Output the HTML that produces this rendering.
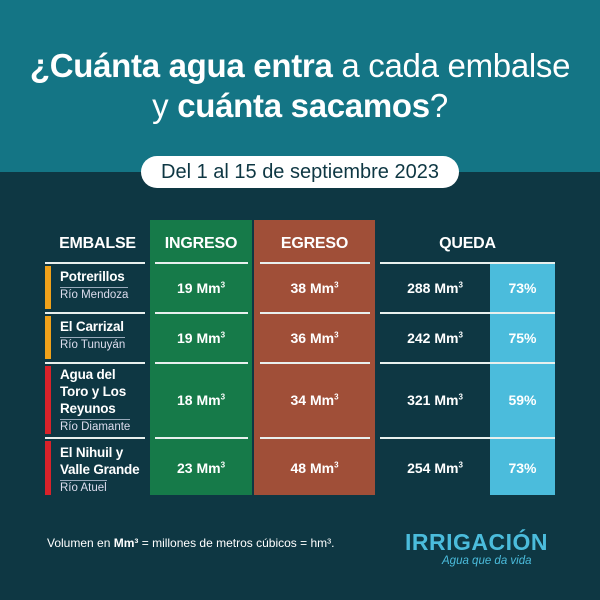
<!DOCTYPE html><html><head><style>
body{margin:0;width:600px;height:600px;overflow:hidden;background:#0e3743;font-family:"Liberation Sans",sans-serif;color:#fff;position:relative}
.a{position:absolute}
.top{left:0;top:0;width:600px;height:172px;background:#147585}
h1{position:absolute;margin:0;left:0;width:600px;top:46px;text-align:center;font-size:33px;font-weight:normal;line-height:40px;letter-spacing:-0.3px}
.pill{left:141px;top:156px;width:318px;height:32px;background:#fff;border-radius:16px;color:#0e3743;font-size:20px;text-align:center;line-height:32px}
.col{top:220px;height:275px}
.hd{font-size:16px;text-align:center;top:235px;font-weight:bold;letter-spacing:-0.2px}
.ln{height:2px;background:#e8f0ee}
.v{font-size:14px;font-weight:bold;text-align:center}
.name{font-size:13.5px;font-weight:bold;line-height:17px;letter-spacing:-0.2px}
.riv{font-size:11.5px;color:#dde;border-top:1px solid #9ab;padding-top:1px;display:inline-block}
.bar{width:6px;left:45px}
sup{font-size:8px}
</style></head><body>
<div class="a top"></div>
<h1><b>¿Cuánta agua entra</b> a cada embalse<br>y <b>cuánta sacamos</b>?</h1>
<div class="a pill">Del 1 al 15 de septiembre 2023</div>
<div class="a col" style="left:150px;width:102px;background:#167a49"></div>
<div class="a col" style="left:254px;width:121px;background:#a04f38"></div>
<div class="a" style="left:490px;top:263px;width:65px;height:232px;background:#4bbcdc"></div>
<div class="a hd" style="left:45px;width:105px">EMBALSE</div>
<div class="a hd" style="left:150px;width:102px">INGRESO</div>
<div class="a hd" style="left:254px;width:121px">EGRESO</div>
<div class="a hd" style="left:380px;width:175px">QUEDA</div>
<div class="a ln" style="left:45px;top:262px;width:100px"></div>
<div class="a ln" style="left:155px;top:262px;width:93px"></div>
<div class="a ln" style="left:260px;top:262px;width:110px"></div>
<div class="a ln" style="left:380px;top:262px;width:175px"></div>
<div class="a ln" style="left:45px;top:312px;width:100px"></div>
<div class="a ln" style="left:155px;top:312px;width:93px"></div>
<div class="a ln" style="left:260px;top:312px;width:110px"></div>
<div class="a ln" style="left:380px;top:312px;width:175px"></div>
<div class="a ln" style="left:45px;top:362px;width:100px"></div>
<div class="a ln" style="left:155px;top:362px;width:93px"></div>
<div class="a ln" style="left:260px;top:362px;width:110px"></div>
<div class="a ln" style="left:380px;top:362px;width:175px"></div>
<div class="a ln" style="left:45px;top:437px;width:100px"></div>
<div class="a ln" style="left:155px;top:437px;width:93px"></div>
<div class="a ln" style="left:260px;top:437px;width:110px"></div>
<div class="a ln" style="left:380px;top:437px;width:175px"></div>
<div class="a bar" style="top:266px;height:43px;background:#f0a21a"></div>
<div class="a bar" style="top:316px;height:43px;background:#f0a21a"></div>
<div class="a bar" style="top:366px;height:68px;background:#d8222a"></div>
<div class="a bar" style="top:441px;height:54px;background:#d8222a"></div>
<div class="a" style="left:60px;top:268px"><div class="name">Potrerillos</div><div class="riv">Río Mendoza</div></div>
<div class="a" style="left:60px;top:318px"><div class="name">El Carrizal</div><div class="riv">Río Tunuyán</div></div>
<div class="a" style="left:60px;top:366px"><div class="name">Agua del<br>Toro y Los<br>Reyunos</div><div class="riv">Río Diamante</div></div>
<div class="a" style="left:60px;top:444px"><div class="name">El Nihuil y<br>Valle Grande</div><div class="riv">Río Atuel</div></div>
<div class="a v" style="left:150px;width:102px;top:280px">19 Mm<sup>3</sup></div>
<div class="a v" style="left:254px;width:121px;top:280px">38 Mm<sup>3</sup></div>
<div class="a v" style="left:380px;width:110px;top:280px">288 Mm<sup>3</sup></div>
<div class="a v" style="left:490px;width:65px;top:280px">73%</div>
<div class="a v" style="left:150px;width:102px;top:330px">19 Mm<sup>3</sup></div>
<div class="a v" style="left:254px;width:121px;top:330px">36 Mm<sup>3</sup></div>
<div class="a v" style="left:380px;width:110px;top:330px">242 Mm<sup>3</sup></div>
<div class="a v" style="left:490px;width:65px;top:330px">75%</div>
<div class="a v" style="left:150px;width:102px;top:392px">18 Mm<sup>3</sup></div>
<div class="a v" style="left:254px;width:121px;top:392px">34 Mm<sup>3</sup></div>
<div class="a v" style="left:380px;width:110px;top:392px">321 Mm<sup>3</sup></div>
<div class="a v" style="left:490px;width:65px;top:392px">59%</div>
<div class="a v" style="left:150px;width:102px;top:460px">23 Mm<sup>3</sup></div>
<div class="a v" style="left:254px;width:121px;top:460px">48 Mm<sup>3</sup></div>
<div class="a v" style="left:380px;width:110px;top:460px">254 Mm<sup>3</sup></div>
<div class="a v" style="left:490px;width:65px;top:460px">73%</div>
<div class="a" style="left:47px;top:536px;font-size:12px">Volumen en <b>Mm³</b> = millones de metros cúbicos = hm³.</div>
<div class="a" style="left:405px;top:529px;font-size:23px;font-weight:bold;color:#4bbcdc;letter-spacing:0.5px">IRRIGACIÓN</div>
<div class="a" style="left:442px;top:555px;font-size:11.5px;font-style:italic;color:#4bbcdc">Agua que da vida</div>
</body></html>
